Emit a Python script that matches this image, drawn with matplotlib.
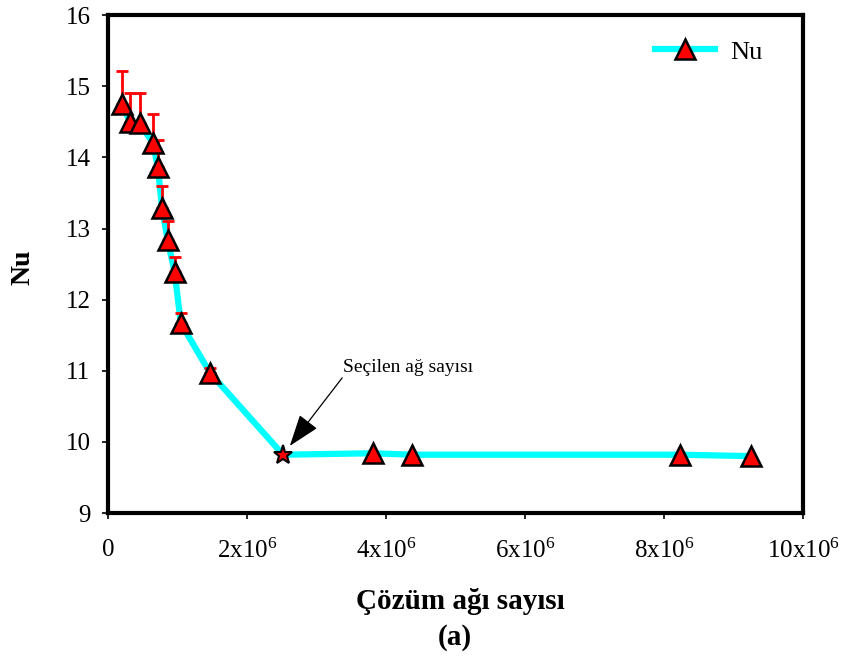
import matplotlib
matplotlib.use("Agg")
import matplotlib.pyplot as plt
import numpy as np

plt.rcParams['font.family'] = ['Liberation Serif', 'DejaVu Serif']
plt.rcParams['mathtext.fontset'] = 'custom'
plt.rcParams['mathtext.rm'] = 'Liberation Serif'
plt.rcParams['mathtext.it'] = 'Liberation Serif:italic'
plt.rcParams['mathtext.bf'] = 'Liberation Serif:bold'

# Data
mesh = np.array([0.20, 0.32, 0.46, 0.65, 0.72, 0.78, 0.86, 0.96, 1.05, 1.47,
                 2.52, 3.81, 4.37, 8.23, 9.25]) * 1e6
nu = np.array([14.75, 14.50, 14.48, 14.20, 13.86, 13.29, 12.84, 12.39, 11.67, 10.97,
               9.82, 9.84, 9.82, 9.82, 9.80])
err_upper = np.array([0.46, 0.40, 0.42, 0.41, 0.38, 0.31, 0.26, 0.21, 0.14, 0.07])
selected_idx = 10
xticks = [0, 2e6, 4e6, 6e6, 8e6, 10e6]
xticklabels = ['0', '2x10$^{6}$', '4x10$^{6}$', '6x10$^{6}$', '8x10$^{6}$', '10x10$^{6}$']
yticks = [9, 10, 11, 12, 13, 14, 15, 16]

fig = plt.figure(figsize=(8.49, 6.59), dpi=100)
ax = fig.add_axes([0.127, 0.2215, 0.819, 0.7555])

n_err = len(err_upper)
ax.errorbar(mesh[:n_err], nu[:n_err], yerr=[np.zeros(n_err), err_upper],
            fmt='none', ecolor='red', elinewidth=2, capsize=4.5, capthick=2, zorder=2)
ax.plot(mesh, nu, color='#00FFFF', lw=4.5, zorder=1)
mask = np.ones(len(mesh), bool)
mask[selected_idx] = False
ax.plot(mesh[mask], nu[mask], ls='none', marker='^', ms=14, mfc='red', mec='black',
        mew=1.8, zorder=3)
ax.plot(mesh[selected_idx], nu[selected_idx], ls='none', marker='*', ms=14, mfc='red',
        mec='black', mew=1.5, zorder=3)

# Legend proxy
ax.plot([], [], color='#00FFFF', lw=4.5, marker='^', ms=14, mfc='red', mec='black',
        mew=1.8, label='Nu')
leg = ax.legend(loc='center left', frameon=False, fontsize=19, handlelength=2.27,
                bbox_to_anchor=(0.787, 0.926), handletextpad=0.57,
                borderpad=0, borderaxespad=0)

ax.text(4.32e6, 11.05, 'Seçilen ağ sayısı', ha='center', va='center', fontsize=14)
ax.annotate('', xy=(mesh[selected_idx], nu[selected_idx]), xytext=(3.37e6, 10.90),
            arrowprops=dict(arrowstyle='-|>,head_length=1.0,head_width=0.35',
                            color='black', lw=0.9, mutation_scale=20,
                            shrinkA=0, shrinkB=8))

ax.set_xlim(0, 10e6)
ax.set_ylim(9, 16)
ax.set_xticks(xticks)
ax.set_xticklabels(xticklabels)
ax.set_yticks(yticks)
ax.tick_params(direction='out', length=4.5, width=1.2, labelsize=18)
ax.tick_params(axis='x', pad=14)
ax.tick_params(axis='y', pad=8)
for s in ax.spines.values():
    s.set_linewidth(3)

ax.set_ylabel('Nu', fontsize=20, fontweight='bold')
ax.yaxis.set_label_coords(-0.104, 0.494)
fig.text(0.542, 0.0865, 'Çözüm ağı sayısı', ha='center', va='center', fontsize=21,
         fontweight='bold')
fig.text(0.536, 0.033, '(a)', ha='center', va='center', fontsize=21, fontweight='bold')

fig.savefig('out.png', dpi=100)
